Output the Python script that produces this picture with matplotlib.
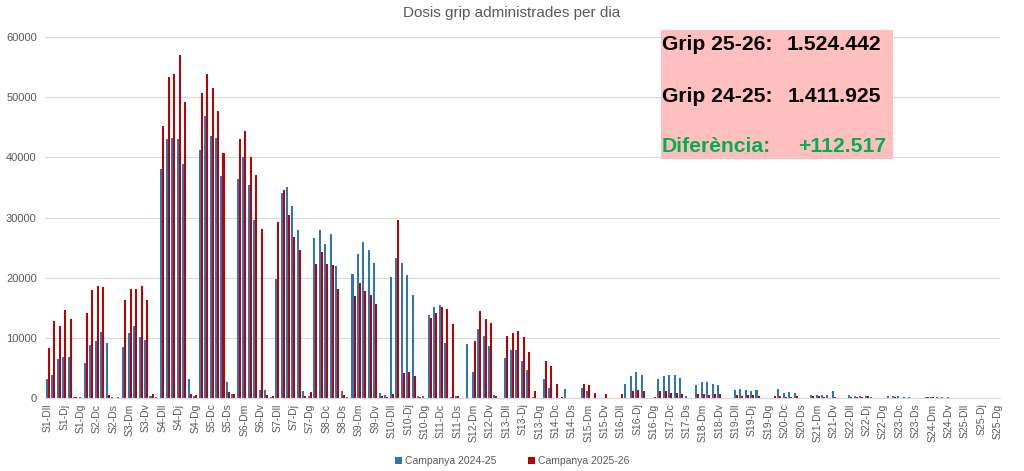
import numpy as np
import matplotlib
matplotlib.use("Agg")
import matplotlib.pyplot as plt
from matplotlib.patches import Rectangle

plt.rcParams['font.family'] = ['Liberation Sans', 'DejaVu Sans']

days = ['Dll', 'Dm', 'Dc', 'Dj', 'Dv', 'Ds', 'Dg']
weeks = 25
categories = [f"S{w}-{d}" for w in range(1, weeks + 1) for d in days]

# Campanya 2024-25, one row per week (Dll..Dg)
camp_2425 = [
    [3200, 3800, 6500, 6900, 6800, 100, 100],
    [5800, 8800, 9500, 11000, 9200, 100, 100],
    [8400, 10800, 12000, 10100, 9700, 300, 100],
    [38100, 43100, 43300, 43100, 38900, 3200, 400],
    [41300, 46900, 43600, 43200, 36900, 2600, 600],
    [36400, 40100, 35400, 29600, 1400, 1300, 200],
    [19800, 34100, 35100, 31900, 27900, 1100, 400],
    [26600, 27900, 25600, 27200, 21900, 1200, 100],
    [20700, 23900, 25900, 24600, 22400, 900, 450],
    [20200, 23200, 22400, 20400, 17200, 400, 300],
    [13800, 15100, 15400, 9200, 100, 400, 0],
    [8900, 4300, 11400, 10300, 8600, 500, 0],
    [6600, 7900, 7900, 6100, 4700, 200, 0],
    [3100, 1700, 0, 0, 1500, 0, 0],
    [1600, 1100, 0, 0, 0, 0, 0],
    [0, 2400, 3600, 4300, 3800, 0, 0],
    [3100, 3600, 3800, 3900, 3400, 300, 0],
    [2200, 2600, 2600, 2300, 2100, 0, 0],
    [1300, 1550, 1400, 1200, 1300, 0, 0],
    [0, 1550, 800, 950, 800, 0, 0],
    [550, 550, 550, 500, 1200, 0, 0],
    [450, 400, 350, 400, 200, 0, 0],
    [300, 300, 300, 150, 100, 0, 0],
    [100, 100, 100, 100, 100, 0, 0],
    [0, 0, 0, 0, 0, 0, 0],
]

# Campanya 2025-26
camp_2526 = [
    [8300, 12800, 11900, 14600, 13200, 100, 0],
    [14200, 17900, 18600, 18400, 500, 0, 0],
    [16300, 18200, 18200, 18700, 16300, 700, 0],
    [45300, 53300, 53900, 57100, 49200, 700, 500],
    [50700, 53900, 51600, 47700, 40700, 1000, 600],
    [43100, 44400, 40000, 37100, 28100, 500, 350],
    [29200, 34600, 30400, 26800, 24600, 350, 1050],
    [22300, 24300, 22300, 22100, 18200, 500, 0],
    [16900, 19200, 17800, 17100, 15700, 300, 100],
    [700, 29600, 4200, 4400, 3600, 200, 0],
    [13300, 14200, 15200, 14800, 12300, 400, 0],
    [0, 9400, 14400, 13100, 12400, 400, 0],
    [10300, 10800, 11200, 10200, 7600, 1100, 0],
    [6100, 5300, 2300, 100, 0, 0, 0],
    [2300, 2200, 900, 0, 700, 0, 0],
    [600, 0, 1100, 1300, 1100, 0, 100],
    [1100, 1100, 900, 800, 700, 0, 0],
    [700, 700, 500, 600, 600, 0, 0],
    [450, 400, 450, 450, 350, 0, 0],
    [350, 300, 200, 200, 300, 0, 0],
    [350, 350, 200, 0, 100, 0, 0],
    [200, 200, 200, 350, 0, 0, 0],
    [0, 150, 0, 0, 0, 0, 0],
    [100, 100, 0, 0, 0, 0, 0],
    [0, 0, 0, 0, 0, 0, 0],
]

total_2526 = "1.524.442"
total_2425 = "1.411.925"
difference = "+112.517"

blue = '#2E75B6'
red = '#C00000'
grey = '#595959'

v1 = np.array(camp_2425).ravel()
v2 = np.array(camp_2526).ravel()
x = np.arange(len(categories))

fig = plt.figure(figsize=(10.24, 4.71), dpi=100)
ax = fig.add_axes([0.044, 0.155, 0.933, 0.766])

bw = 0.37
ax.bar(x - bw / 2, v1, bw, color=blue, label='Campanya 2024-25', zorder=2)
ax.bar(x + bw / 2, v2, bw, color=red, label='Campanya 2025-26', zorder=2)

ax.set_xlim(-0.5, len(categories) - 0.5)
ax.set_ylim(0, 60000)
ax.set_yticks(range(0, 60001, 10000))
ax.grid(axis='y', color='#D9D9D9', linewidth=0.8, zorder=0)
ax.set_axisbelow(True)

ax.set_xticks(x[::3])
ax.set_xticklabels(categories[::3], rotation=90, fontsize=7.5, color=grey)
ax.tick_params(axis='y', labelsize=8, labelcolor=grey, length=0, pad=6)
ax.tick_params(axis='x', length=0, pad=4)

for s in ['top', 'right', 'left']:
    ax.spines[s].set_visible(False)
ax.spines['bottom'].set_color('#D9D9D9')

fig.text(0.5, 0.972, 'Dosis grip administrades per dia', ha='center', va='center',
         fontsize=11, color=grey)

fig.legend(loc='lower center', ncol=2, frameon=False, fontsize=7.5,
           bbox_to_anchor=(0.5, -0.01), handlelength=0.7, handleheight=0.7,
           handletextpad=0.3, columnspacing=3, labelcolor=grey)

# summary box
W, H = 1024, 471
fig.add_artist(Rectangle((661 / W, 1 - 159 / H), 232 / W, 129 / H,
                         transform=fig.transFigure, facecolor='#FFBFBF',
                         edgecolor='none', zorder=5))
rows = [('Grip 25-26:', total_2526, 'black', 44, 881),
        ('Grip 24-25:', total_2425, 'black', 96, 881),
        ('Diferència:', difference, '#00B050', 147, 886)]
for lab, val, col, yy, xr in rows:
    fig.text(662 / W, 1 - yy / H, lab, ha='left', va='center', fontsize=15.2,
             fontweight='bold', color=col, zorder=6)
    fig.text(xr / W, 1 - yy / H, val, ha='right', va='center', fontsize=15.2,
             fontweight='bold', color=col, zorder=6)

fig.savefig('out.png', dpi=100)
